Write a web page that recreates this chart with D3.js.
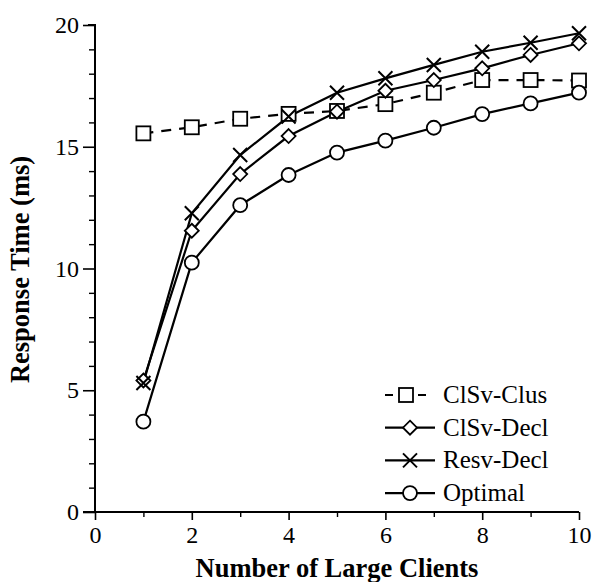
<!DOCTYPE html>
<html>
<head>
<meta charset="utf-8">
<script src="https://cdn.jsdelivr.net/npm/d3@7"></script>
<style>
  html, body { margin: 0; padding: 0; background: #fff; }
  svg { display: block; }
</style>
</head>
<body>
<div id="chart"></div>
<script>
const clients = [1, 2, 3, 4, 5, 6, 7, 8, 9, 10];
const clsvClus = [15.55, 15.8, 16.15, 16.35, 16.47, 16.75, 17.22, 17.74, 17.74, 17.72];
const clsvDecl = [5.4, 11.55, 13.88, 15.44, 16.44, 17.3, 17.74, 18.22, 18.77, 19.25];
const resvDecl = [5.3, 12.27, 14.66, 16.24, 17.22, 17.81, 18.36, 18.9, 19.27, 19.66];
const optimal = [3.71, 10.24, 12.6, 13.84, 14.76, 15.25, 15.78, 16.34, 16.78, 17.22];
const xTicks = [0, 2, 4, 6, 8, 10];
const yTicks = [0, 5, 10, 15, 20];

const series = [
  { name: "ClSv-Clus", values: clsvClus, marker: "square", dashed: true },
  { name: "ClSv-Decl", values: clsvDecl, marker: "diamond", dashed: false },
  { name: "Resv-Decl", values: resvDecl, marker: "cross", dashed: false },
  { name: "Optimal", values: optimal, marker: "circle", dashed: false },
];

const width = 596;
const height = 582;
const margin = { top: 25, right: 17, bottom: 70, left: 95 };
const font = "'Liberation Serif', 'Times New Roman', serif";

const svg = d3.select("#chart")
  .append("svg")
  .attr("width", width)
  .attr("height", height);

const x = d3.scaleLinear().domain([0, 10]).range([margin.left, width - margin.right]);
const y = d3.scaleLinear().domain([0, 20]).range([height - margin.bottom, margin.top]);

// y axis
svg.append("g")
  .attr("transform", `translate(${margin.left},0)`)
  .call(d3.axisLeft(y).tickValues(yTicks).tickSize(12).tickPadding(4))
  .call((g) => g.select(".domain").attr("stroke-width", 2).attr("d", `M-0,${y(0)}V${y(20)}H-7`))
  .call((g) => g.selectAll(".tick line").attr("stroke-width", 1.6))
  .call((g) => g.selectAll("text").attr("font-family", font).attr("font-size", 24).attr("fill", "#000"));

svg.append("g")
  .attr("transform", `translate(${margin.left},0)`)
  .call(d3.axisLeft(y).tickValues(d3.range(0, 21).filter((v) => v % 5 !== 0)).tickSize(6).tickFormat(""))
  .call((g) => g.select(".domain").remove())
  .call((g) => g.selectAll(".tick line").attr("stroke-width", 1.4));

// x axis
svg.append("g")
  .attr("transform", `translate(0,${y(0)})`)
  .call(d3.axisBottom(x).tickValues(xTicks).tickSize(8).tickPadding(6))
  .call((g) => g.select(".domain").attr("stroke-width", 2).attr("d", `M${x(0) - 12},0H${x(10)}`))
  .call((g) => g.selectAll(".tick line").attr("stroke-width", 1.6))
  .call((g) => g.selectAll("text").attr("font-family", font).attr("font-size", 24).attr("fill", "#000"));

svg.append("g")
  .attr("transform", `translate(0,${y(0)})`)
  .call(d3.axisBottom(x).tickValues(d3.range(1, 10, 2)).tickSize(5).tickFormat(""))
  .call((g) => g.select(".domain").remove())
  .call((g) => g.selectAll(".tick line").attr("stroke-width", 1.4));

// axis titles
svg.append("text")
  .attr("x", (x(0) + x(10)) / 2)
  .attr("y", height - 5)
  .attr("text-anchor", "middle")
  .attr("font-family", font)
  .attr("font-weight", "bold")
  .attr("font-size", 26.5)
  .text("Number of Large Clients");

svg.append("text")
  .attr("transform", `translate(29,${(y(0) + y(20)) / 2 + 1}) rotate(-90)`)
  .attr("text-anchor", "middle")
  .attr("font-family", font)
  .attr("font-weight", "bold")
  .attr("font-size", 26.5)
  .text("Response Time (ms)");

function drawMarker(g, type) {
  const r = 7;
  if (type === "square") {
    g.append("rect").attr("x", -r).attr("y", -r).attr("width", 2 * r).attr("height", 2 * r)
      .attr("fill", "#fff").attr("stroke", "#000").attr("stroke-width", 1.8);
  } else if (type === "diamond") {
    g.append("path").attr("d", `M0,${-r}L${r},0L0,${r}L${-r},0Z`)
      .attr("fill", "#fff").attr("stroke", "#000").attr("stroke-width", 1.8);
  } else if (type === "cross") {
    g.append("path").attr("d", `M${-r},${-r}L${r},${r}M${-r},${r}L${r},${-r}`)
      .attr("stroke", "#000").attr("stroke-width", 2);
  } else {
    g.append("circle").attr("r", r)
      .attr("fill", "#fff").attr("stroke", "#000").attr("stroke-width", 1.8);
  }
}

const line = d3.line().x((d) => x(d[0])).y((d) => y(d[1]));

series.forEach((s) => {
  const pts = clients.map((c, i) => [c, s.values[i]]);
  svg.append("path")
    .attr("d", line(pts))
    .attr("fill", "none")
    .attr("stroke", "#000")
    .attr("stroke-width", 2.2)
    .attr("stroke-dasharray", s.dashed ? "10,8" : null);
});

series.forEach((s) => {
  svg.append("g")
    .selectAll("g")
    .data(clients.map((c, i) => [c, s.values[i]]))
    .join("g")
    .attr("transform", (d) => `translate(${x(d[0])},${y(d[1])})`)
    .each(function () { drawMarker(d3.select(this), s.marker); });
});

// legend
const legend = svg.append("g").attr("transform", "translate(385,395)");
series.forEach((s, i) => {
  const row = legend.append("g").attr("transform", `translate(0,${i * 32.7})`);
  if (s.dashed) {
    row.append("path").attr("d", "M0,0H8M33,0H41").attr("stroke", "#000").attr("stroke-width", 2.2);
  } else {
    row.append("path").attr("d", "M0,0H50").attr("stroke", "#000").attr("stroke-width", 2.2);
  }
  const m = row.append("g").attr("transform", `translate(${s.dashed ? 21 : 25},0)`);
  drawMarker(m, s.marker);
  row.append("text")
    .attr("x", 58)
    .attr("y", 8)
    .attr("font-family", font)
    .attr("font-size", 25)
    .text(s.name);
});
</script>
</body>
</html>
